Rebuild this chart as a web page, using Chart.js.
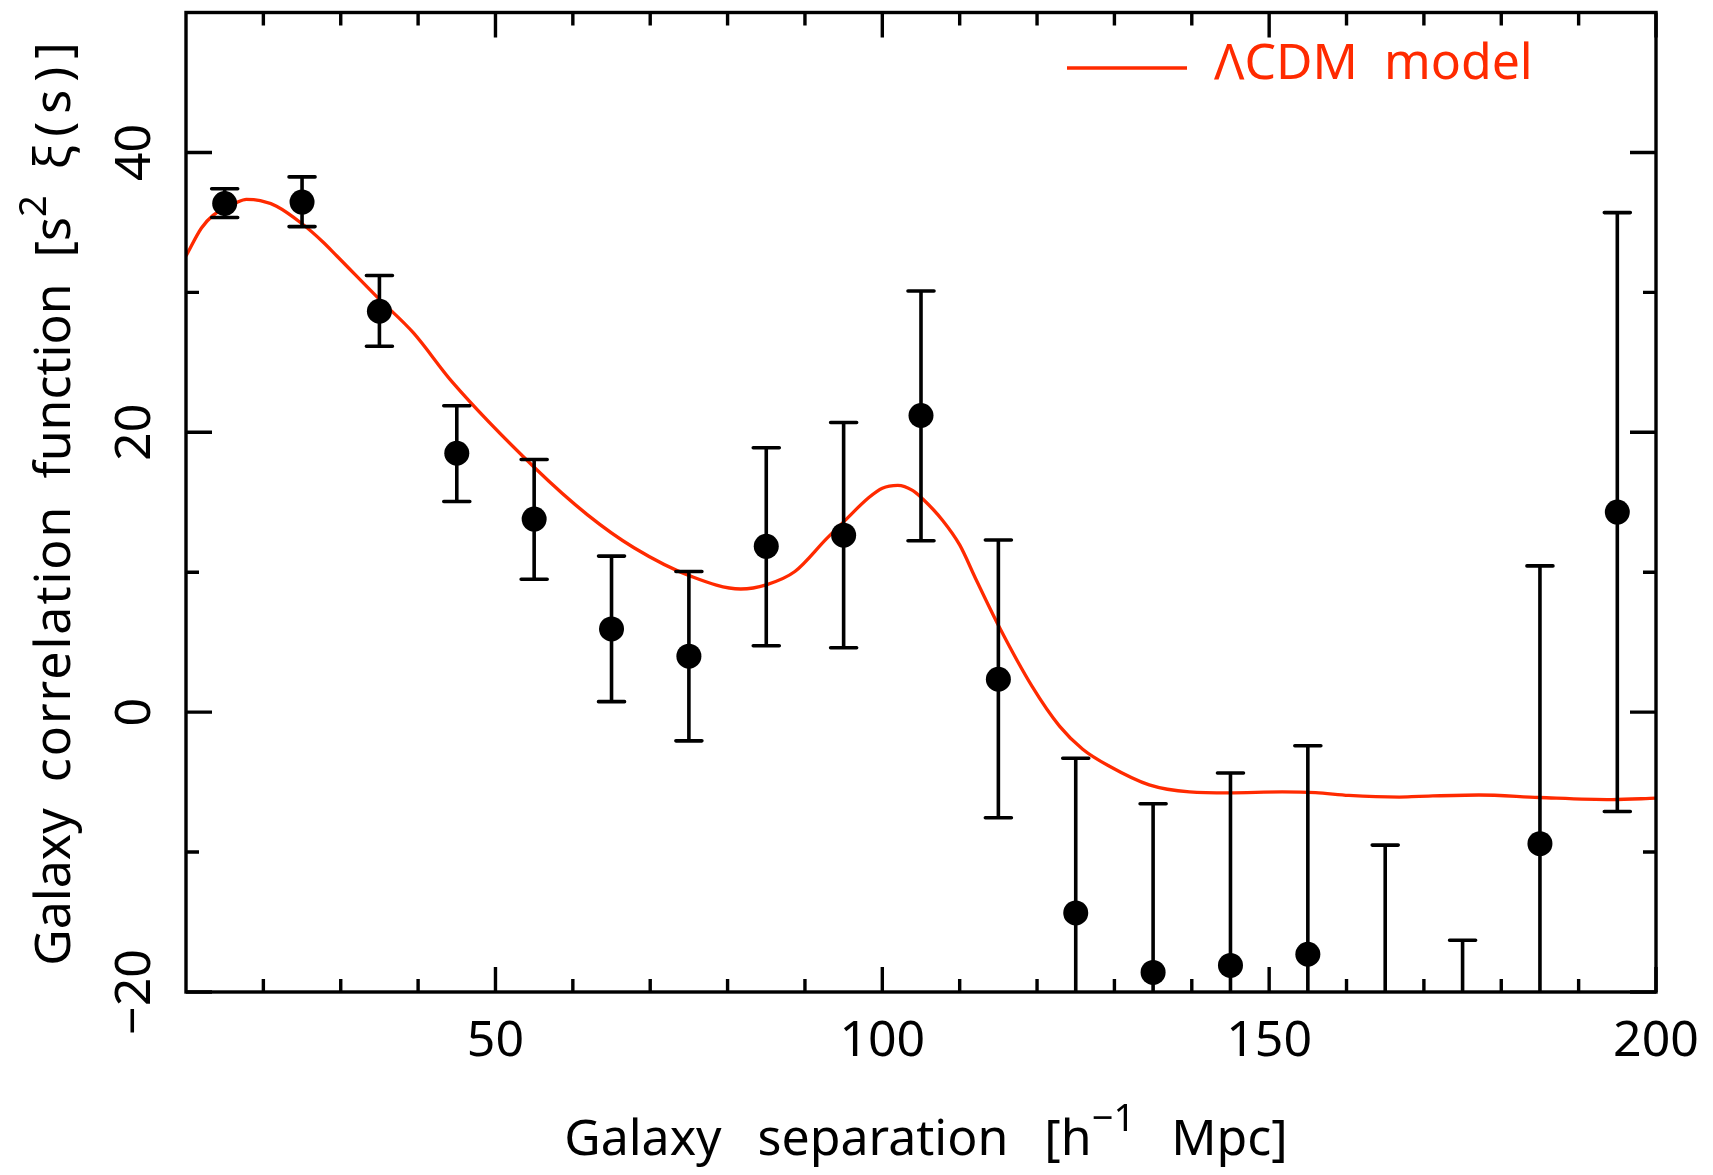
<!DOCTYPE html>
<html>
<head>
<meta charset="utf-8">
<script src="https://cdn.jsdelivr.net/npm/chart.js@4.4.1/dist/chart.umd.min.js"></script>
<style>
  html, body { margin: 0; padding: 0; background: #fff; }
  #wrap { width: 1713px; height: 1175px; }
</style>
</head>
<body>
<div id="wrap"><canvas id="chart" width="1713" height="1175"></canvas></div>
<script>
// ── Data ──────────────────────────────────────────────────────────────────
const SEP      = [15, 25, 35, 45, 55, 65, 75, 85, 95, 105, 115, 125, 135, 145, 155, 165, 175, 185, 195];
const XI       = [36.35, 36.45, 28.65, 18.5, 13.8, 5.95, 4.0, 11.85, 12.65, 21.2, 2.35, -14.35, -18.6, -18.1, -17.3, -25.5, -33.5, -9.4, 14.3];
const XI_HIGH  = [37.4, 38.25, 31.2, 21.9, 18.05, 11.15, 10.05, 18.9, 20.7, 30.1, 12.3, -3.3, -6.55, -4.35, -2.4, -9.5, -16.3, 10.45, 35.7];
const XI_LOW   = [35.35, 34.7, 26.15, 15.05, 9.5, 0.75, -2.05, 4.75, 4.6, 12.25, -7.55, -25.4, -30.65, -31.85, -32.2, -41.5, -50.7, -29.3, -7.1];

const MODEL_S  = [10, 12, 13.5, 16.5, 17.8, 19.6, 21.7, 25, 27.7, 29.5, 35, 39.4, 44.4, 55, 61.9, 67.9, 75.3, 81.7, 85,
                  88.7, 92.8, 95, 98.3, 100, 102, 103.9, 105.2, 107.8, 110, 112.1, 115.1, 119.4, 122.9, 125.9, 129.3, 134.5,
                  139.7, 144.8, 151.7, 156, 160.3, 166.8, 169.4, 177.1, 184.9, 194.3, 200];
const MODEL_XI = [32.6, 34.6, 35.5, 36.4, 36.65, 36.55, 36.15, 34.9, 33.6, 32.6, 29.5, 27.1, 23.6, 17.5, 14.1, 11.75, 9.7, 8.8, 9.1,
                  10.05, 12.4, 13.6, 15.35, 16.0, 16.2, 15.85, 15.25, 13.7, 11.95, 9.5, 6.1, 1.8, -1.0, -2.65, -3.85, -5.2,
                  -5.7, -5.77, -5.7, -5.75, -5.95, -6.07, -6.02, -5.92, -6.1, -6.25, -6.15];

const X_MAJOR = [50, 100, 150, 200];
const X_MAJOR_LABELS = ['50', '100', '150', '200'];
const X_MINOR = [20, 30, 40, 60, 70, 80, 90, 110, 120, 130, 140, 160, 170, 180, 190];
const Y_MAJOR = [-20, 0, 20, 40];
const Y_MAJOR_LABELS = ['\u221220', '0', '20', '40'];
const Y_MINOR = [-10, 10, 30];

const RED = '#ff2a00';
const FONT = '50px "Noto Sans"';
const SUP_FONT = '38px "Noto Sans"';

// text with superscript / letter-spaced parts, centred on x
function richText(ctx, parts, x, y) {
    const setPart = p => {
        ctx.font = p.sup ? SUP_FONT : FONT;
        ctx.letterSpacing = (p.ls || 0) + 'px';
        ctx.wordSpacing = (p.ws || 0) + 'px';
    };
    const widths = parts.map(p => {
        setPart(p);
        return ctx.measureText(p.t).width;
    });
    const total = widths.reduce((a, b) => a + b, 0);
    let cx = x - total / 2;
    ctx.textAlign = 'left';
    ctx.textBaseline = 'alphabetic';
    parts.forEach((p, i) => {
        setPart(p);
        ctx.fillText(p.t, cx, y + (p.sup ? -24 : 0));
        cx += widths[i];
    });
    ctx.letterSpacing = '0px';
    ctx.wordSpacing = '0px';
}

// error bars, drawn over the model line
const errorBarPlugin = {
    id: 'errorBars',
    afterDatasetsDraw(chart) {
        const { ctx, chartArea: a, scales: { x, y } } = chart;
        ctx.save();
        ctx.beginPath();
        ctx.rect(a.left, a.top, a.right - a.left, a.bottom - a.top);
        ctx.clip();
        ctx.strokeStyle = '#000';
        ctx.lineWidth = 3.6;
        ctx.lineCap = 'round';
        SEP.forEach((s, i) => {
            const px = x.getPixelForValue(s);
            const yHi = y.getPixelForValue(XI_HIGH[i]);
            const yLo = y.getPixelForValue(XI_LOW[i]);
            ctx.beginPath();
            ctx.moveTo(px, yHi);
            ctx.lineTo(px, yLo);
            ctx.moveTo(px - 13, yHi);
            ctx.lineTo(px + 13, yHi);
            ctx.moveTo(px - 13, yLo);
            ctx.lineTo(px + 13, yLo);
            ctx.stroke();
        });
        ctx.restore();
    }
};

// frame, inward ticks on all sides, tick labels, axis titles, legend
const framePlugin = {
    id: 'frame',
    afterDraw(chart) {
        const { ctx, chartArea: a, scales: { x, y } } = chart;
        ctx.save();
        ctx.strokeStyle = '#000';
        ctx.fillStyle = '#000';
        ctx.lineWidth = 3.4;
        ctx.strokeRect(a.left, a.top, a.right - a.left, a.bottom - a.top);

        const tick = (vals, len, horiz) => {
            vals.forEach(v => {
                ctx.beginPath();
                if (horiz) {
                    const px = x.getPixelForValue(v);
                    ctx.moveTo(px, a.bottom); ctx.lineTo(px, a.bottom - len);
                    ctx.moveTo(px, a.top);    ctx.lineTo(px, a.top + len);
                } else {
                    const py = y.getPixelForValue(v);
                    ctx.moveTo(a.left, py);  ctx.lineTo(a.left + len, py);
                    ctx.moveTo(a.right, py); ctx.lineTo(a.right - len, py);
                }
                ctx.stroke();
            });
        };
        tick(X_MAJOR, 25, true);
        tick(X_MINOR, 13, true);
        tick(Y_MAJOR, 26, false);
        tick(Y_MINOR, 13, false);

        // tick labels
        ctx.font = FONT;
        ctx.textAlign = 'center';
        ctx.textBaseline = 'alphabetic';
        X_MAJOR.forEach((v, i) => {
            ctx.fillText(X_MAJOR_LABELS[i], x.getPixelForValue(v), a.bottom + 64);
        });
        Y_MAJOR.forEach((v, i) => {
            ctx.save();
            ctx.translate(a.left - 36, y.getPixelForValue(v));
            ctx.rotate(-Math.PI / 2);
            ctx.fillText(Y_MAJOR_LABELS[i], 0, 0);
            ctx.restore();
        });

        // axis titles
        richText(ctx, [
            { t: 'Galaxy  separation  [h', ws: 5 },
            { t: '\u22121', sup: true },
            { t: '  Mpc]', ws: 5 }
        ], (a.left + a.right) / 2 + 5, 1155);

        ctx.save();
        ctx.translate(70, 500);
        ctx.rotate(-Math.PI / 2);
        richText(ctx, [
            { t: 'Galaxy  ' },
            { t: 'correlation', ls: 2 },
            { t: '  function  [s' },
            { t: '2', sup: true },
            { t: '  ' },
            { t: '\u03BE(s)]', ls: 8 }
        ], 0, 0);
        ctx.restore();

        // legend
        ctx.strokeStyle = RED;
        ctx.lineWidth = 3.3;
        ctx.beginPath();
        ctx.moveTo(1067, 68);
        ctx.lineTo(1187, 68);
        ctx.stroke();
        ctx.fillStyle = RED;
        ctx.font = FONT;
        ctx.textAlign = 'left';
        ctx.fillText('\u039BCDM  model', 1214, 79);
        ctx.restore();
    }
};

new Chart(document.getElementById('chart'), {
    type: 'scatter',
    plugins: [errorBarPlugin, framePlugin],
    data: {
        datasets: [
            {
                label: 'data',
                data: SEP.map((s, i) => ({ x: s, y: XI[i] })),
                pointRadius: 12.5,
                pointHoverRadius: 12.5,
                pointBackgroundColor: '#000',
                pointBorderWidth: 0,
                showLine: false,
                order: 0
            },
            {
                label: '\u039BCDM model',
                type: 'line',
                data: MODEL_S.map((s, i) => ({ x: s, y: MODEL_XI[i] })),
                borderColor: RED,
                borderWidth: 3.3,
                pointRadius: 0,
                cubicInterpolationMode: 'monotone',
                fill: false,
                order: 1
            }
        ]
    },
    options: {
        responsive: false,
        animation: false,
        devicePixelRatio: 1,
        layout: { padding: { left: 186, right: 57, top: 10, bottom: 183 } },
        plugins: {
            legend: { display: false },
            tooltip: { enabled: false }
        },
        scales: {
            x: { type: 'linear', display: false, min: 10, max: 200 },
            y: { type: 'linear', display: false, min: -20, max: 50 }
        }
    }
});
</script>
</body>
</html>
